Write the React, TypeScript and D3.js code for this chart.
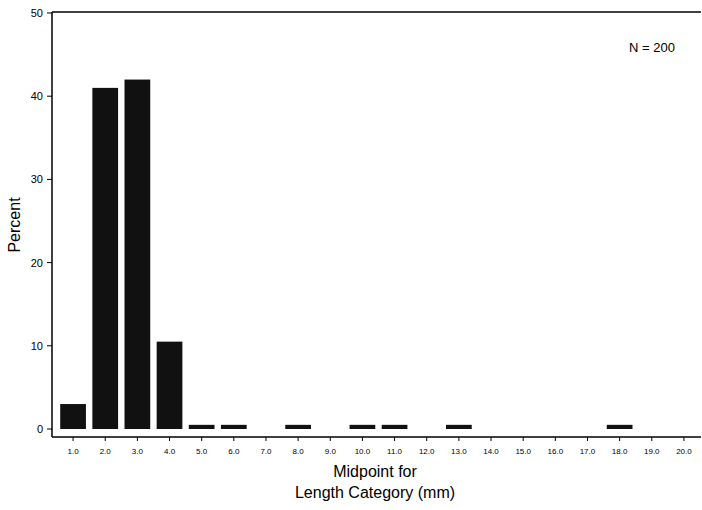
import React from "react";
import { scaleBand, scaleLinear } from "d3";

const categories = Array.from({ length: 20 }, (_, i) => (i + 1).toFixed(1));
const percents = [3, 41, 42, 10.5, 0.5, 0.5, 0, 0.5, 0, 0.5, 0.5, 0, 0.5, 0, 0, 0, 0, 0.5, 0, 0];
const yTicks = [0, 10, 20, 30, 40, 50];

const W = 702, H = 510;
const left = 52, right = 701, top = 12, axisY = 437;

export default function App() {
  const x = scaleBand().domain(categories).range([left + 5, right - 1]).paddingInner(0.2).paddingOuter(0.1);
  const y = scaleLinear().domain([0, 50]).range([429, 13]);
  const font = "Arial, 'Liberation Sans', sans-serif";
  return (
    <svg width={W} height={H} style={{ position: "absolute", left: 0, top: 0, background: "#fff" }}>
      <line x1={left} x2={right} y1={top} y2={top} stroke="#000" strokeWidth={1.5} />
      <line x1={left} x2={left} y1={top} y2={axisY} stroke="#000" strokeWidth={1.5} />
      <line x1={left} x2={right} y1={axisY} y2={axisY} stroke="#000" strokeWidth={1.5} />
      {yTicks.map(t => (
        <g key={t}>
          <line x1={left - 5} x2={left} y1={y(t)} y2={y(t)} stroke="#000" />
          <text x={left - 9} y={y(t) + 4} textAnchor="end" fontSize={11} fontFamily={font}>{t}</text>
        </g>
      ))}
      {categories.map((c, i) => (
        <g key={c}>
          {percents[i] > 0 && (
            <rect x={x(c)} width={x.bandwidth()} y={y(percents[i])}
              height={Math.max(3, y(0) - y(percents[i]))} fill="#111" />
          )}
          <line x1={x(c)! + x.bandwidth() / 2} x2={x(c)! + x.bandwidth() / 2} y1={axisY} y2={axisY + 4} stroke="#000" />
          <text x={x(c)! + x.bandwidth() / 2} y={axisY + 17} textAnchor="middle" fontSize={8} fontFamily={font}>{c}</text>
        </g>
      ))}
      <text x={652} y={52} textAnchor="middle" fontSize={13} fontFamily={font}>N = 200</text>
      <text transform={`translate(20,${225}) rotate(-90)`} textAnchor="middle" fontSize={16} fontFamily={font}>Percent</text>
      <text x={375} y={477} textAnchor="middle" fontSize={16} fontFamily={font}>Midpoint for</text>
      <text x={375} y={498} textAnchor="middle" fontSize={16} fontFamily={font}>Length Category (mm)</text>
    </svg>
  );
}
